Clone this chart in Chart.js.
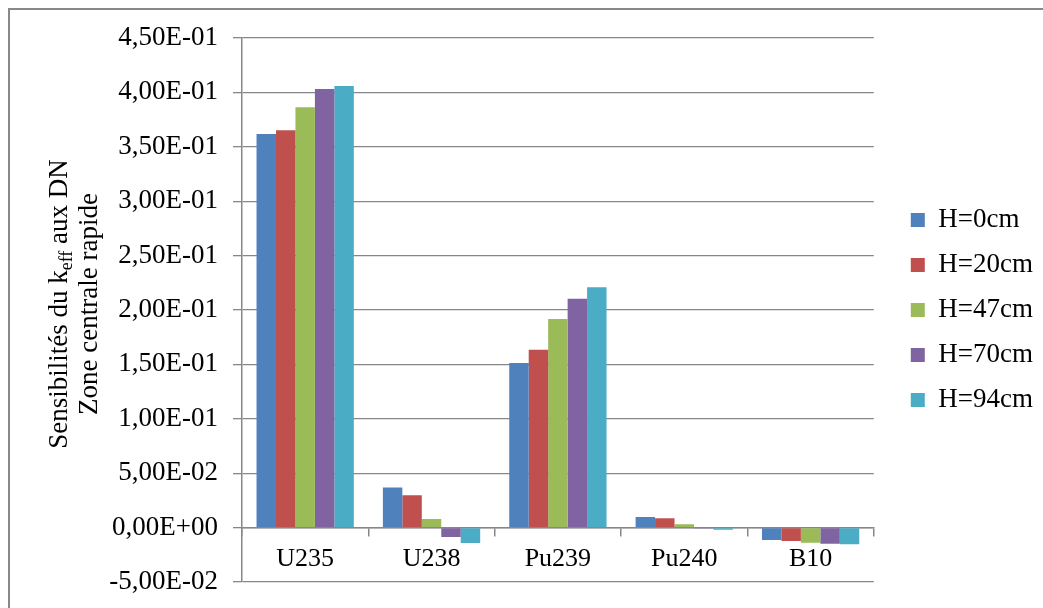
<!DOCTYPE html>
<html>
<head>
<meta charset="utf-8">
<script src="https://cdn.jsdelivr.net/npm/chart.js@4"></script>
<style>
  html,body{margin:0;padding:0;background:#fff;}
  #wrap{position:relative;width:1043px;height:608px;overflow:hidden;}
  #frame{position:absolute;left:8px;top:8px;width:1100px;height:700px;border:2px solid #888;box-sizing:border-box;}
  #c{position:absolute;left:0;top:0;}
</style>
</head>
<body>
<div id="wrap">
  <div id="frame"></div>
  <canvas id="c" width="1043" height="608"></canvas>
</div>
<script>
  const categories = ['U235','U238','Pu239','Pu240','B10'];
  const seriesNames = ['H=0cm','H=20cm','H=47cm','H=70cm','H=94cm'];
  const h0  = [0.3618, 0.0368, 0.1513, 0.0097, -0.0114];
  const h20 = [0.3652, 0.0298, 0.1635, 0.0087, -0.0124];
  const h47 = [0.3864, 0.0078, 0.1917, 0.0031, -0.0140];
  const h70 = [0.4031, -0.0087, 0.2104, -0.0003, -0.0148];
  const h94 = [0.4058, -0.0141, 0.2208, -0.0019, -0.0153];
  const colors = ['#4F81BD','#C0504D','#9BBB59','#8064A2','#4BACC6'];
  const yMin = -0.05, yMax = 0.45, yStep = 0.05;

  const FONT = 'Liberation Serif, "Times New Roman", serif';
  const GRID = '#878787';

  function fmtSci(v){
    if (Math.abs(v) < 1e-12) return '0,00E+00';
    const [m, e] = v.toExponential(2).split('e');
    const n = parseInt(e, 10);
    return m.replace('.', ',') + 'E' + (n < 0 ? '-' : '+') + String(Math.abs(n)).padStart(2, '0');
  }

  // rotated two-line axis title, with the "eff" subscript
  const yTitle = {
    id: 'yTitle',
    afterDraw(chart){
      const ctx = chart.ctx;
      const cy = 304;
      const big = '27px ' + FONT, small = '18px ' + FONT;
      ctx.save();
      ctx.fillStyle = '#000';
      ctx.textBaseline = 'alphabetic';
      ctx.textAlign = 'left';
      // line 1
      ctx.save();
      ctx.translate(67, cy);
      ctx.rotate(-Math.PI/2);
      const p1 = 'Sensibilités du k', p2 = 'eff', p3 = ' aux DN';
      ctx.font = big; const w1 = ctx.measureText(p1).width, w3 = ctx.measureText(p3).width;
      ctx.font = small; const w2 = ctx.measureText(p2).width;
      let x = -(w1 + w2 + w3) / 2;
      ctx.font = big; ctx.fillText(p1, x, 0); x += w1;
      ctx.font = small; ctx.fillText(p2, x, 5); x += w2;
      ctx.font = big; ctx.fillText(p3, x, 0);
      ctx.restore();
      // line 2
      ctx.save();
      ctx.translate(97, cy);
      ctx.rotate(-Math.PI/2);
      ctx.font = big;
      ctx.textAlign = 'center';
      ctx.fillText('Zone centrale rapide', 0, 0);
      ctx.restore();
      ctx.restore();
    }
  };

  const seriesData = [h0, h20, h47, h70, h94];
  const datasets = seriesData.map((d, i) => ({
    label: seriesNames[i],
    data: d,
    backgroundColor: colors[i],
    borderWidth: 0,
    categoryPercentage: 0.77,
    barPercentage: 1.0
  }));

  new Chart(document.getElementById('c'), {
    type: 'bar',
    data: { labels: categories, datasets },
    options: {
      responsive: false,
      animation: false,
      devicePixelRatio: 1,
      layout: { padding: { left: 0, top: 38, bottom: 26, right: 0 } },
      plugins: {
        tooltip: { enabled: false },
        legend: {
          position: 'right',
          align: 'center',
          labels: {
            boxWidth: 14, boxHeight: 14, padding: 18,
            color: '#000',
            font: { family: FONT, size: 27 }
          }
        }
      },
      scales: {
        x: {
          position: { y: 0 },
          offset: true,
          grid: { display: true, offset: true, drawOnChartArea: false, drawTicks: true, tickLength: 8, color: GRID, lineWidth: 1.5 },
          border: { display: true, color: GRID, width: 1.5 },
          ticks: { color: '#000', font: { family: FONT, size: 26 }, padding: 8, maxRotation: 0 }
        },
        y: {
          position: 'left',
          min: yMin, max: yMax,
          afterFit(s){ s.width = 242; s.paddingTop = 0; s.paddingBottom = 0; },
          grid: { color: GRID, lineWidth: 1.3, tickLength: 9, tickColor: GRID },
          border: { display: true, color: GRID, width: 1.5 },
          ticks: {
            stepSize: yStep,
            color: '#000',
            padding: 15,
            font: { family: FONT, size: 27 },
            callback: v => fmtSci(v)
          }
        },
        spacer: {
          type: 'linear',
          position: 'right',
          afterFit(s){ s.width = 19; },
          grid: { display: false },
          border: { display: false },
          ticks: { display: false }
        }
      }
    },
    plugins: [yTitle]
  });
</script>
</body>
</html>
